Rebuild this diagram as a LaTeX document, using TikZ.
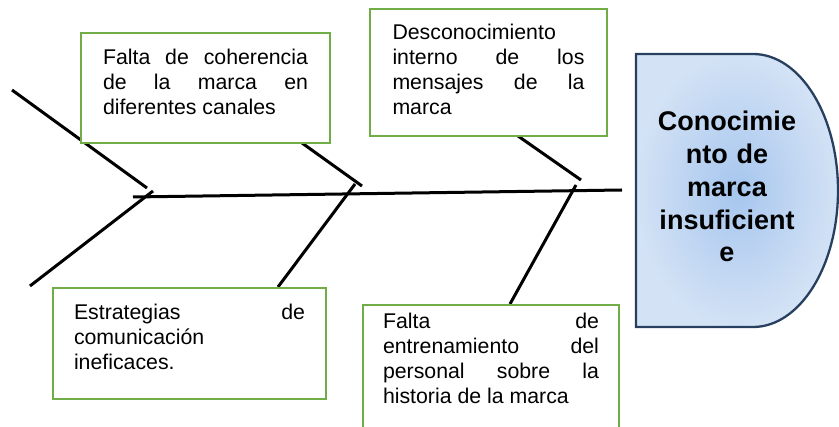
\documentclass[tikz,border=0pt]{standalone}
\usepackage{fontspec}
\setmainfont{Liberation Sans}

\definecolor{causegreen}{HTML}{70AD47}
\definecolor{headline}{HTML}{27405F}
\definecolor{headin}{HTML}{A6C6EE}
\definecolor{headout}{HTML}{D3E2F5}

\tikzset{
  causebox/.style={draw=causegreen, line width=2pt, fill=white, inner ysep=0pt, outer sep=0pt,
    anchor=base west, align=justify, font=\fontsize{21.3}{24.7}\selectfont},
  headtext/.style={text width=180pt, align=center, anchor=base, inner sep=0pt,
    font=\fontsize{27}{32.75}\selectfont\bfseries},
  bone/.style={line width=3pt, black}
}

\begin{document}
\begin{tikzpicture}[x=1pt, y=-1pt]
\useasboundingbox (0,0) rectangle (839,427);
\clip (0,0) rectangle (839,427);

\coordinate (s1) at (133,197);
\coordinate (s2) at (622,190);

\coordinate (t1) at (12,90);
\coordinate (j1) at (147,188);
\coordinate (u1) at (30,286);
\coordinate (k1) at (153,191);

\coordinate (t2) at (302,143);
\coordinate (j2) at (362,186);
\coordinate (u2) at (278,287);
\coordinate (k2) at (355,184);

\coordinate (t3) at (518,136);
\coordinate (j3) at (581,180);
\coordinate (u3) at (510,304);
\coordinate (k3) at (576,185);

\draw[bone] (s1) -- (s2);

\draw[bone] (t1) -- (j1);
\draw[bone] (u1) -- (k1);

\draw[bone] (t2) -- (j2);
\draw[bone] (u2) -- (k2);

\draw[bone] (t3) -- (j3);
\draw[bone] (u3) -- (k3);

\node[causebox, text width=205pt, inner xsep=22pt, text height=32pt, text depth=78pt] (coherencia) at (81,65)
  {Falta de coherencia\linebreak de la marca en\linebreak diferentes canales};
\node[causebox, text width=192pt, inner xsep=22.5pt, text height=31pt, text depth=96pt] (desconocimiento) at (370,40)
  {Desconocimiento\newline interno de los\linebreak mensajes de la\linebreak marca};
\node[causebox, text width=231pt, inner xsep=21pt, text height=32pt, text depth=79pt] (estrategias) at (53,320)
  {Estrategias de\linebreak comunicación\newline ineficaces.};
\node[causebox, text width=216pt, inner xsep=20pt, text height=24pt, text depth=120pt] (entrenamiento) at (363,329)
  {Falta de\linebreak entrenamiento del\linebreak personal sobre la\linebreak historia de la marca};

\shadedraw[draw=headline, line width=2.3pt, inner color=headin, outer color=headout]
  (636,54) -- (753,54) arc[start angle=-90, end angle=90, x radius=85, y radius=136.5] -- (636,327) -- cycle;
\node[headtext] (efecto) at (727,131) {Conocimie\\nto de\\marca\\insuficient\\e};

\end{tikzpicture}
\end{document}
